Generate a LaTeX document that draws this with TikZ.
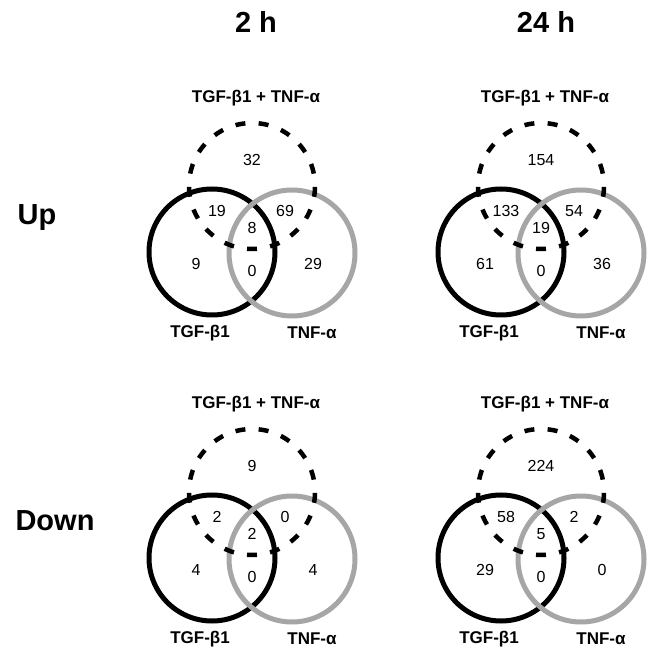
\documentclass[tikz,border=0pt]{standalone}
\usepackage{fontspec}
\setmainfont{Liberation Sans}
\tikzset{
  x=1pt, y=1pt,
  tgfc/.style={draw=black, line width=5pt},
  tnfc/.style={draw=black!35, line width=5pt},
  combc/.style={draw=black, line width=4.5pt, dash pattern=on 10pt off 13.285pt, dash phase=5pt},
  num/.style={inner sep=0pt, font=\fontsize{16}{18}\selectfont},
  lab/.style={inner sep=0pt, font=\fontsize{17}{19}\selectfont\bfseries},
  head/.style={inner sep=0pt, font=\fontsize{29}{32}\selectfont\bfseries},
}
\newcommand\vennpanel[9]{%
\begin{scope}[shift={(#2)}]
  \coordinate (#1-o) at (0,0);
  \draw[tgfc] (-40,0) circle[radius=63];
  \draw[tnfc] (40,-1) circle[radius=63];
  \draw[combc] (0,3) arc[start angle=-90, end angle=270, radius=63];
  \node[num] (#1-top) at (0,92) {#3};
  \node[num] (#1-ul) at (-35,41) {#4};
  \node[num] (#1-ur) at (33,41) {#5};
  \node[num] (#1-ctr) at (0,24) {#6};
  \node[num] (#1-bc) at (0,-19) {#7};
  \node[num] (#1-l) at (-56,-12) {#8};
  \node[num] (#1-r) at (61,-12) {#9};
  \node[lab] (#1-tgf) at (-52,-81) {TGF-β1};
  \node[lab] (#1-tnf) at (60,-81) {TNF-α};
  \node[lab] (#1-both) at (4,154) {TGF-β1 + TNF-α};
\end{scope}}
\begin{document}
\begin{tikzpicture}
\useasboundingbox (0,0) rectangle (654,659);
\fill[white] (0,0) rectangle (654,659);
\node[head] (t2) at (256,637) {2 h};
\node[head] (t24) at (546,637) {24 h};
\node[head] (up) at (37,441) {Up};
\node[head] (down) at (55,138) {Down};
\vennpanel{ul}{252,407}{32}{19}{69}{8}{0}{9}{29}
\vennpanel{ur}{541,407}{154}{133}{54}{19}{0}{61}{36}
\vennpanel{dl}{252,101}{9}{2}{0}{2}{0}{4}{4}
\vennpanel{dr}{541,101}{224}{58}{2}{5}{0}{29}{0}
\end{tikzpicture}
\end{document}
